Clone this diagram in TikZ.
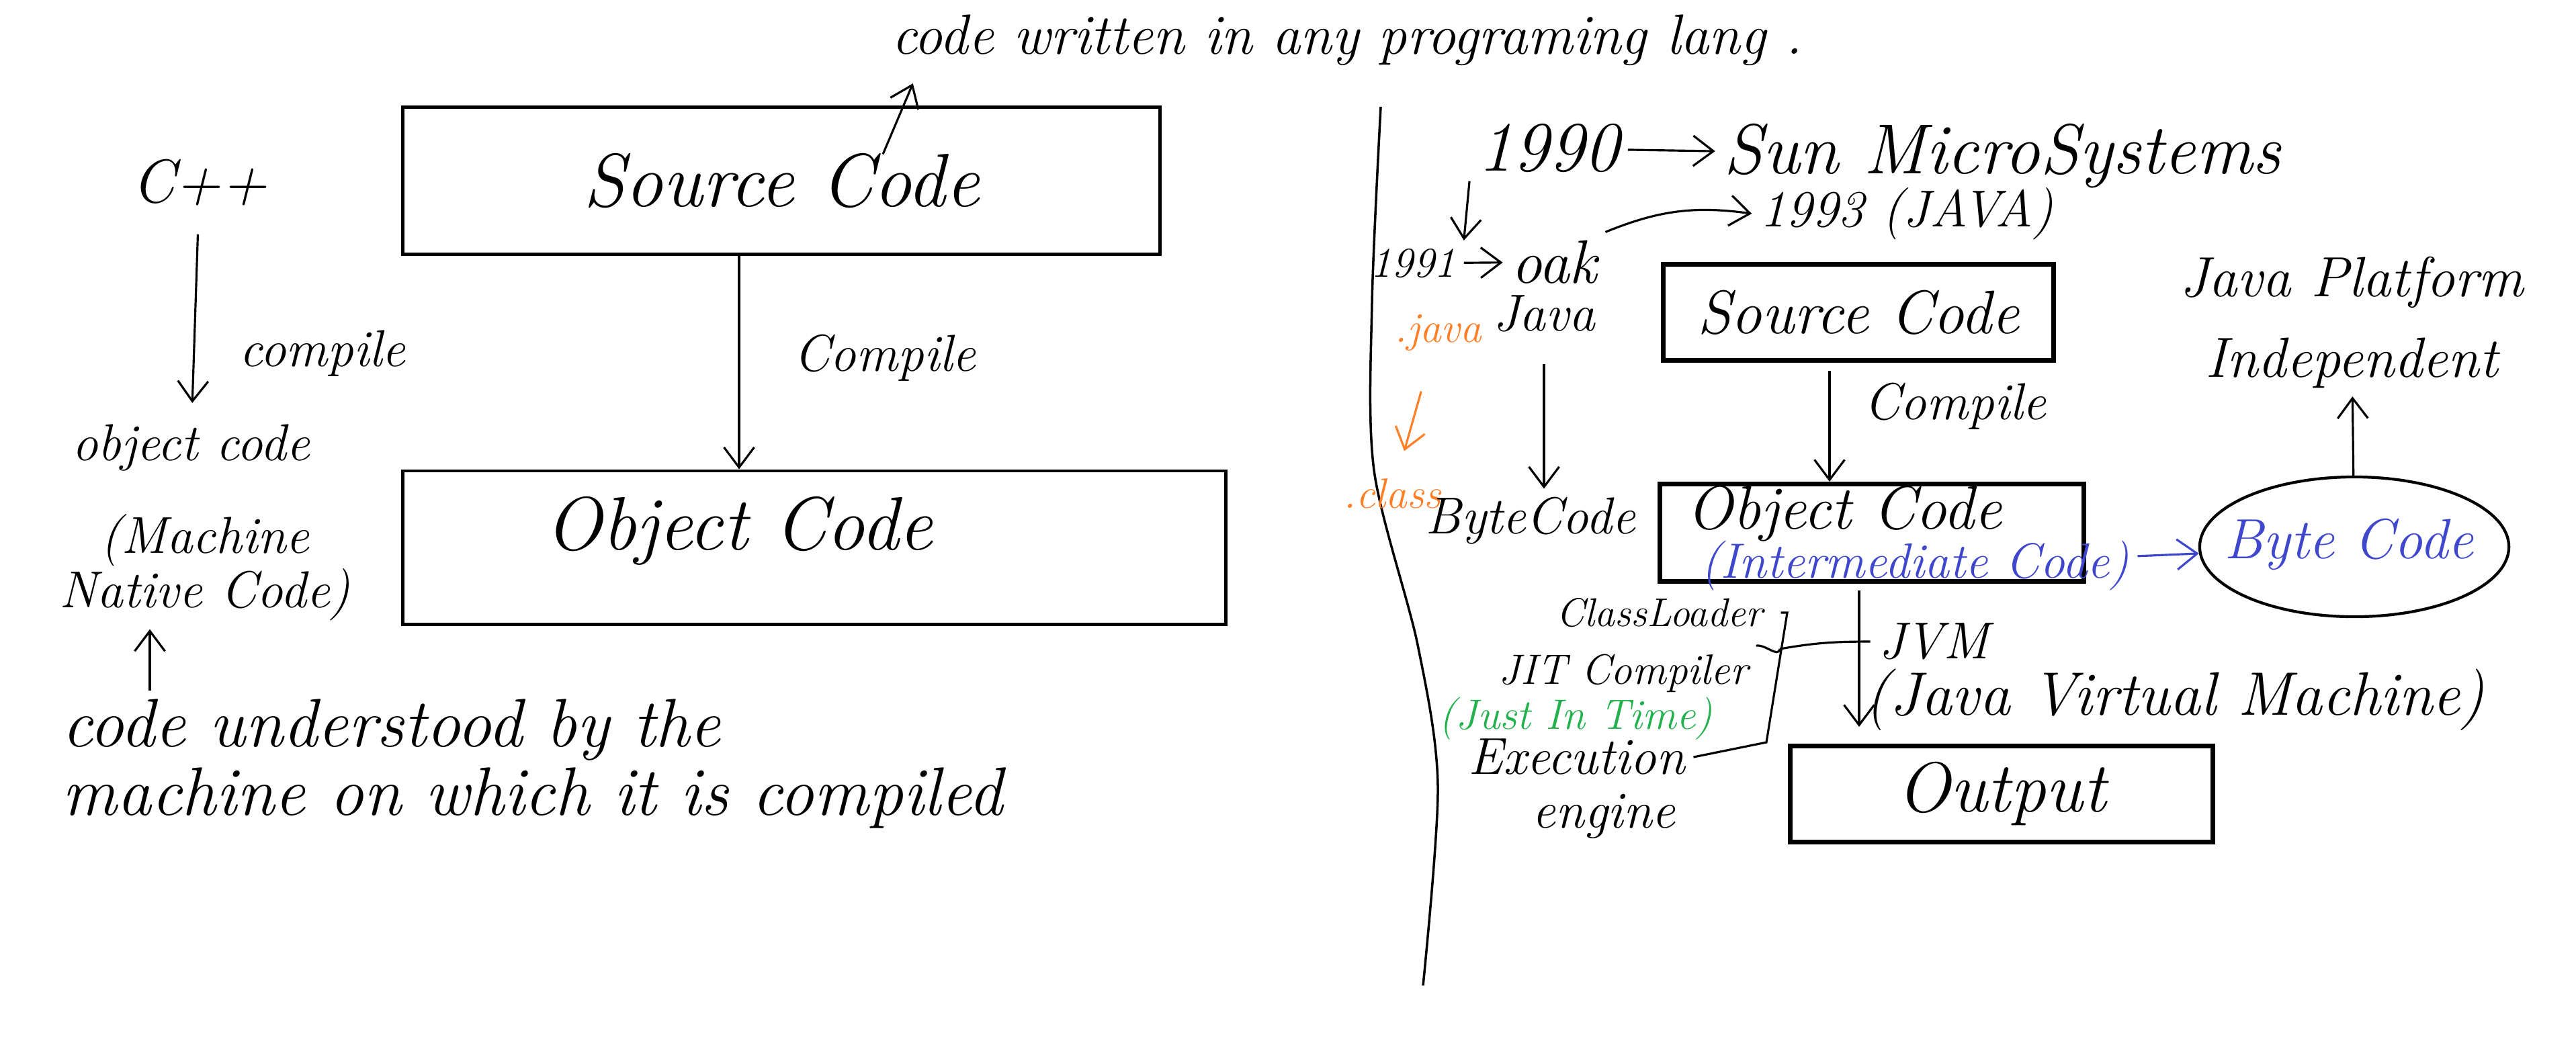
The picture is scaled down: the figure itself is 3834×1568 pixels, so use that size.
\documentclass[tikz,border=0pt]{standalone}
\usepackage{fontspec}
\usetikzlibrary{arrows.meta,shapes.geometric}
\definecolor{noteorange}{RGB}{255,127,39}
\definecolor{noteblue}{RGB}{63,72,204}
\definecolor{notegreen}{RGB}{34,177,76}
\begin{document}
\begin{tikzpicture}[
  x=0.01cm, y=-0.01cm,
  every node/.style = {align=center, font=\fontsize{22}{25}\selectfont\itshape},
  small/.style = {font=\fontsize{18}{21}\selectfont\itshape},
  mid/.style = {font=\fontsize{26}{30}\selectfont\itshape},
  big/.style = {font=\fontsize{30}{34}\selectfont\itshape},
  codebox/.style = {draw, line width=1.4pt, inner sep=0pt, font=\fontsize{32}{36}\selectfont\itshape},
  rbox/.style = {draw, line width=2pt, inner sep=0pt, font=\fontsize{26}{30}\selectfont\itshape},
  arr/.style = {-{Straight Barb[length=0.3cm,width=0.45cm]}, line width=0.9pt}]
  \useasboundingbox (0,0) rectangle (3834,1568);
  \node[codebox, minimum width=11.27cm, minimum height=2.18cm] (srcL) at (1163,269) {Source Code};
  \node[codebox, minimum width=12.25cm, minimum height=2.28cm] (objL) at (1212,815) {};
  \node[font=\fontsize{32}{36}\selectfont\itshape] (objLt) at (1100,790) {Object Code};
  \node[font=\fontsize{24}{28}\selectfont\itshape] (lang) at (2005,60) {code written in any programing lang .};
  \node[mid] (cpp) at (297,272) {C++};
  \node (cmpA) at (480,526) {compile};
  \node (objA) at (284,667) {object code};
  \node[font=\fontsize{22}{21}\selectfont\itshape] (mach) at (305,845) {(Machine\\Native Code)};
  \node[align=left, anchor=west, font=\fontsize{29}{29}\selectfont\itshape] (under) at (80,1137) {code understood by the\\machine on which it is compiled};
  \node (cmpB) at (1317,533) {Compile};
  \coordinate (upx) at (223,0);
  \draw[arr, shorten >=0.15cm] ([xshift=1.51cm, yshift=-0.72cm]srcL.north) -- ([xshift=-6.4cm]lang.south);
  \draw[arr, shorten <=0.3cm, shorten >=0.2cm] (cpp) -- (objA);
  \draw[arr] (srcL.south -| objLt) -- (objL.north -| objLt);
  \draw[arr] (under.north -| upx) -- (mach.south -| upx);
  \draw[line width=1pt] plot[smooth] coordinates {(2055,159) (2042,450) (2045,700) (2110,960) (2140,1170) (2118,1467)};
  \node[big] (y1990) at (2305,221) {1990};
  \node[big] (sun) at (2980,232) {Sun MicroSystems};
  \node (y1993) at (2838,318) {1993 (JAVA)};
  \node[small] (y1991) at (2103,392) {1991};
  \node[mid] (oak) at (2313,390) {oak};
  \node[small, text=noteorange] (extjava) at (2140,495) {.java};
  \node (java) at (2298,467) {Java};
  \node[small, text=noteorange] (extclass) at (2072,735) {.class};
  \node (bytecode) at (2278,775) {ByteCode};
  \node[rbox, minimum width=5.8cm, minimum height=1.43cm] (srcR) at (2766,465) {Source Code};
  \node[rbox, minimum width=6.31cm, minimum height=1.45cm] (objR) at (2786,793) {};
  \node[mid] (objRt) at (2745,765) {Object Code};
  \node[rbox, minimum width=6.29cm, minimum height=1.43cm, font=\fontsize{30}{34}\selectfont\itshape] (output) at (2979,1182) {Output};
  \node (cmpC) at (2910,605) {Compile};
  \node[text=noteblue, font=\fontsize{21}{24}\selectfont\itshape] (inter) at (2850,842) {(Intermediate Code)};
  \node[draw, ellipse, line width=1.2pt, inner sep=0pt, minimum width=4.6cm, minimum height=2.08cm] (bytec) at (3504,814) {};
  \node[text=noteblue, font=\fontsize{24}{28}\selectfont\itshape] (bytect) at (3496,810) {Byte Code};
  \node[font=\fontsize{24}{34}\selectfont\itshape] (indep) at (3500,480) {Java Platform\\Independent};
  \node[font=\fontsize{17}{20}\selectfont\itshape] (loader) at (2470,912) {ClassLoader};
  \node[small] (jit) at (2416,1002) {JIT Compiler};
  \node[small, text=notegreen] (jitfull) at (2345,1070) {(Just In Time)};
  \node (execA) at (2347,1127) {Execution};
  \node (execB) at (2387,1215) {engine};
  \node (jvm) at (2878,955) {JVM};
  \node[mid] (jvmfull) at (3237,1042) {(Java Virtual Machine)};
  \coordinate (brT) at (2660,912);
  \coordinate (brM) at (2649,966);
  \coordinate (brB) at (2629,1105);
  \coordinate (cmpx) at (2723,0);
  \coordinate (jvmx) at (2767,0);
  \draw[arr] (y1990) -- (sun);
  \draw[arr] (y1990.south west) -- (y1991.north east);
  \draw[arr] (y1991) -- (oak);
  \draw[arr] (oak.north east) to[bend left=15] (y1993.west);
  \draw[arr, noteorange, shorten <=0.5cm, shorten >=0.3cm] (extjava) -- (extclass);
  \draw[arr, shorten <=0.35cm] (java.south) -- (java.south |- bytecode.north);
  \draw[arr, shorten <=0.12cm] (srcR.south -| cmpx) -- (objR.north -| cmpx);
  \draw[arr, noteblue] (inter) -- (bytec);
  \draw[arr] (bytec) -- (indep);
  \draw[line width=0.9pt] ([xshift=0.15cm]loader.east) -- (brT) -- (brB) -- (execA.east);
  \draw[line width=0.9pt] (jit.north east) to[out=10,in=-100] (brM);
  \draw[line width=0.9pt] (brM) to[out=10,in=180] (jvm.west);
  \draw[arr, shorten <=0.1cm, shorten >=0.25cm] (objR.south -| jvmx) -- (output.north -| jvmx);
\end{tikzpicture}
\end{document}
